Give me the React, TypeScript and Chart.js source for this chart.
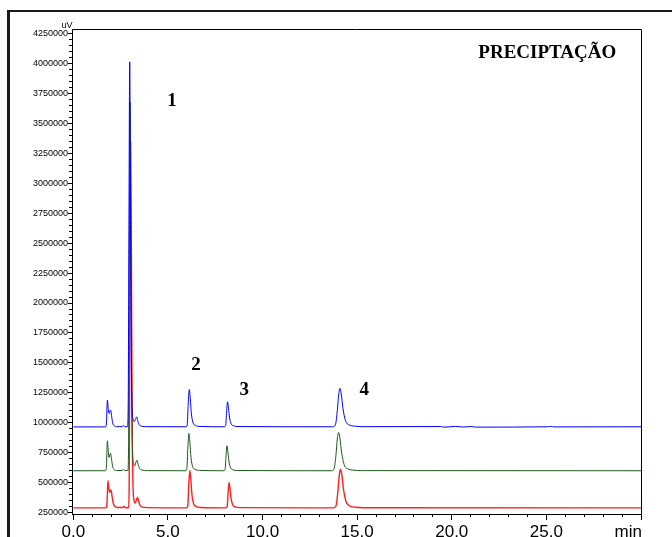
import { useEffect, useRef } from 'react';
import { Chart, registerables } from 'chart.js';

Chart.register(...registerables);

type Pt = [number, number];

// Axis ticks (retention time in minutes, detector signal in uV)
const xTicks = [0, 5, 10, 15, 20, 25, 30];
const xTickLabels = ['0.0', '5.0', '10.0', '15.0', '20.0', '25.0', ''];
const xUnit = 'min';
const yUnit = 'uV';
const yTicks = [
  250000, 500000, 750000, 1000000, 1250000, 1500000, 1750000, 2000000, 2250000,
  2500000, 2750000, 3000000, 3250000, 3500000, 3750000, 4000000, 4250000,
];

// Chromatogram traces: [time (min), signal (uV)]
const blueTrace: Pt[] = [
  [0, 966000], [1.7, 966000], [1.75, 1000000], [1.8, 1189000], [1.85, 1110000],
  [1.89, 1078000], [1.94, 1100000], [1.97, 1106000], [2.02, 1060000], [2.08, 1000000],
  [2.16, 975000], [2.3, 968000], [2.58, 968000], [2.65, 978000], [2.7, 970000],
  [2.86, 967000], [2.9, 1150000], [2.94, 2700000], [2.98, 4013000], [3.02, 2900000],
  [3.06, 1600000], [3.1, 1150000], [3.16, 1030000], [3.22, 1010000], [3.3, 1035000],
  [3.35, 1050000], [3.4, 1020000], [3.48, 985000], [3.6, 972000], [3.9, 968000],
  [5.95, 967000], [6.02, 983000], [6.07, 1154000], [6.13, 1278000], [6.18, 1200000],
  [6.24, 1076000], [6.32, 1004000], [6.45, 979000], [6.7, 970000],
  [7.98, 967000], [8.05, 977000], [8.1, 1092000], [8.15, 1175000], [8.2, 1123000],
  [8.26, 1040000], [8.34, 992000], [8.47, 975000], [8.7, 969000],
  [13.7, 967000], [13.85, 983000], [13.95, 1100000], [14.02, 1231000], [14.09, 1287000],
  [14.16, 1240000], [14.25, 1120000], [14.38, 1020000], [14.55, 985000], [14.9, 972000],
  [15.3, 968000], [19.4, 969000], [19.6, 964000], [20.2, 970000], [20.6, 965000],
  [21.0, 969000], [21.3, 964000], [25.1, 967000], [25.25, 971000], [25.4, 966000],
  [30, 967000],
];

const greenTrace: Pt[] = [
  [0, 600000], [1.7, 600000], [1.75, 640000], [1.8, 850000], [1.85, 755000],
  [1.89, 711000], [1.94, 738000], [1.97, 745000], [2.02, 695000], [2.08, 635000],
  [2.16, 610000], [2.3, 602000], [2.58, 602000], [2.65, 612000], [2.7, 604000],
  [2.88, 602000], [2.92, 800000], [2.96, 2400000], [3.0, 3677000], [3.04, 2600000],
  [3.08, 1300000], [3.12, 800000], [3.18, 660000], [3.24, 640000], [3.32, 675000],
  [3.37, 689000], [3.42, 655000], [3.5, 620000], [3.62, 606000], [3.92, 601000],
  [5.93, 600000], [6.0, 616000], [6.05, 787000], [6.11, 911000], [6.16, 833000],
  [6.22, 709000], [6.3, 637000], [6.43, 612000], [6.68, 603000],
  [7.95, 600000], [8.02, 610000], [8.07, 725000], [8.12, 808000], [8.17, 756000],
  [8.23, 673000], [8.31, 625000], [8.44, 608000], [8.67, 602000],
  [13.63, 600000], [13.78, 616000], [13.88, 733000], [13.95, 863000], [14.02, 919000],
  [14.09, 872000], [14.18, 752000], [14.31, 652000], [14.48, 618000], [14.83, 605000],
  [15.23, 601000], [30, 600000],
];

const redTrace: Pt[] = [
  [0, 290000], [1.73, 290000], [1.78, 330000], [1.83, 517000], [1.88, 450000],
  [1.92, 418000], [1.96, 436000], [1.99, 440000], [2.04, 395000], [2.1, 335000],
  [2.18, 305000], [2.32, 293000], [2.6, 293000], [2.67, 302000], [2.72, 295000],
  [2.89, 291000], [2.91, 292000], [2.95, 450000], [2.99, 2000000], [3.03, 3341000],
  [3.07, 2300000], [3.11, 1000000], [3.15, 500000], [3.21, 350000], [3.27, 330000],
  [3.35, 365000], [3.4, 378000], [3.45, 345000], [3.53, 310000], [3.65, 296000],
  [3.95, 292000],
  [5.98, 290000], [6.05, 306000], [6.1, 478000], [6.16, 603000], [6.21, 525000],
  [6.27, 400000], [6.35, 328000], [6.48, 302000], [6.73, 293000],
  [8.06, 290000], [8.13, 301000], [8.18, 418000], [8.23, 503000], [8.28, 450000],
  [8.34, 365000], [8.42, 316000], [8.55, 298000], [8.78, 292000],
  [13.73, 290000], [13.88, 306000], [13.98, 425000], [14.05, 555000], [14.12, 612000],
  [14.19, 565000], [14.28, 444000], [14.41, 343000], [14.58, 308000], [14.93, 295000],
  [15.33, 291000], [30, 290000],
];

// Peak numbers, anchored in data coordinates
const peakLabels = [
  { text: '1', t: 5.21, v: 3685000 },
  { text: '2', t: 6.48, v: 1482000 },
  { text: '3', t: 9.03, v: 1271000 },
  { text: '4', t: 15.37, v: 1274000 },
];
const panelTitle = { text: 'PRECIPTAÇÃO', t: 25.05, v: 4088000 };

const SANS = "'Liberation Sans', Arial, sans-serif";
const SERIF = "'Liberation Serif', 'Times New Roman', serif";

const decorations = {
  id: 'chromDecorations',
  beforeDraw(chart: any) {
    const ctx = chart.ctx as CanvasRenderingContext2D;
    ctx.save();
    ctx.fillStyle = '#ffffff';
    ctx.fillRect(0, 0, chart.width, chart.height);
    // figure frame (top and left edges)
    ctx.fillStyle = '#1a1a1a';
    ctx.fillRect(7, 10, chart.width - 7, 2);
    ctx.fillRect(7, 10, 3, chart.height - 10);
    ctx.restore();
  },
  afterDraw(chart: any) {
    const ctx = chart.ctx as CanvasRenderingContext2D;
    const a = chart.chartArea;
    const x = chart.scales.x;
    const y = chart.scales.y;
    ctx.save();
    ctx.strokeStyle = '#000';
    ctx.lineWidth = 1;
    ctx.beginPath();
    const top = Math.round(a.top - 0.5) + 0.5;
    const right = Math.round(a.right - 0.5) + 0.5;
    ctx.moveTo(a.left, top);
    ctx.lineTo(right, top);
    ctx.lineTo(right, a.bottom);
    // minor ticks
    for (let m = 1; m < 30; m++) {
      if (m % 5 === 0) continue;
      const px = Math.round(x.getPixelForValue(m) - 0.5) + 0.5;
      ctx.moveTo(px, a.bottom);
      ctx.lineTo(px, a.bottom + 3);
    }
    for (let v = 250000; v < 4250000; v += 50000) {
      if (v % 250000 === 0) continue;
      const py = Math.round(y.getPixelForValue(v) - 0.5) + 0.5;
      ctx.moveTo(a.left - 3, py);
      ctx.lineTo(a.left, py);
    }
    ctx.stroke();

    ctx.fillStyle = '#000';
    ctx.font = `9px ${SANS}`;
    ctx.textAlign = 'center';
    ctx.textBaseline = 'alphabetic';
    ctx.fillText(yUnit, a.left - 5, a.top - 1);

    ctx.font = `17px ${SANS}`;
    ctx.textAlign = 'right';
    ctx.textBaseline = 'middle';
    ctx.fillText(xUnit, x.getPixelForValue(30) + 1, a.bottom + 18);

    ctx.font = `bold 19px ${SERIF}`;
    ctx.textAlign = 'center';
    ctx.textBaseline = 'middle';
    for (const p of peakLabels) {
      ctx.fillText(p.text, x.getPixelForValue(p.t), y.getPixelForValue(p.v));
    }
    ctx.fillText(panelTitle.text, x.getPixelForValue(panelTitle.t), y.getPixelForValue(panelTitle.v));
    ctx.restore();
  },
};

const toXY = (pts: Pt[]) => pts.map(([t, v]) => ({ x: t, y: v }));

export default function App() {
  const ref = useRef<HTMLCanvasElement>(null);

  useEffect(() => {
    if (!ref.current) return;
    const line = (data: Pt[], color: string, width: number) => ({
      data: toXY(data),
      borderColor: color,
      backgroundColor: color,
      borderWidth: width,
      pointRadius: 0,
      fill: false,
      cubicInterpolationMode: 'monotone' as const,
    });
    const chart = new Chart(ref.current, {
      type: 'line',
      data: {
        datasets: [
          line(blueTrace, '#0000ff', 1),
          line(greenTrace, '#1c5a1c', 1),
          line(redTrace, '#ff1f1f', 1.4),
        ],
      },
      options: {
        animation: false,
        responsive: false,
        devicePixelRatio: 1,
        events: [],
        layout: { padding: { left: 8, top: 29, right: 31, bottom: 0 } },
        plugins: {
          legend: { display: false },
          tooltip: { enabled: false },
        },
        scales: {
          x: {
            type: 'linear',
            min: -0.07,
            max: 30,
            afterBuildTicks: (s: any) => {
              s.ticks = xTicks.map((v) => ({ value: v }));
            },
            afterFit: (s: any) => {
              s.height = 23;
            },
            ticks: {
              autoSkip: false,
              maxRotation: 0,
              minRotation: 0,
              padding: 2,
              color: '#000',
              font: { family: SANS, size: 17 },
              callback: (v: any) => xTickLabels[xTicks.indexOf(Number(v))] ?? '',
            },
            grid: {
              display: true,
              drawOnChartArea: false,
              drawTicks: true,
              tickLength: 6,
              color: '#000',
            },
            border: { display: true, color: '#000', width: 1 },
          },
          y: {
            type: 'linear',
            min: 239000,
            max: 4287000,
            afterBuildTicks: (s: any) => {
              s.ticks = yTicks.map((v) => ({ value: v }));
            },
            afterFit: (s: any) => {
              s.width = 64;
            },
            ticks: {
              autoSkip: false,
              padding: 0,
              color: '#000',
              font: { family: SANS, size: 9 },
              callback: (v: any) => String(v),
            },
            grid: {
              display: true,
              drawOnChartArea: false,
              drawTicks: true,
              tickLength: 4,
              color: '#000',
            },
            border: { display: true, color: '#000', width: 1 },
          },
        },
      },
      plugins: [decorations],
    });
    return () => chart.destroy();
  }, []);

  return (
    <div style={{ position: 'absolute', left: 0, top: 0, width: 672, height: 537, background: '#fff' }}>
      <canvas ref={ref} width={672} height={537} style={{ display: 'block', width: 672, height: 537 }} />
    </div>
  );
}
